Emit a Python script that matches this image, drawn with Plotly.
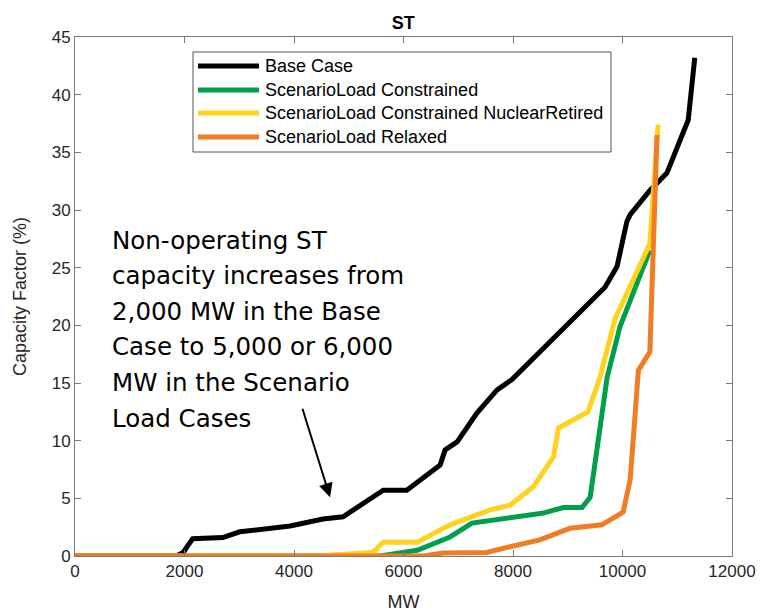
import plotly.graph_objects as go

# Capacity factor supply curves for ST units
base_mw = [0, 1850, 1975, 2150, 2700, 3010, 3930, 4530, 4895, 5630, 6060, 6670, 6760, 6980,
           7340, 7710, 7980, 8676, 9680, 9900, 10080, 10140, 10500, 10810, 11200, 11320]
base_cf = [0, 0, 0.3, 1.5, 1.6, 2.1, 2.6, 3.2, 3.4, 5.7, 5.7, 7.9, 9.2, 9.9,
           12.4, 14.4, 15.3, 18.6, 23.3, 25.1, 29.0, 29.6, 31.7, 33.2, 37.8, 43.2]

con_mw = [0, 5570, 6250, 6850, 7250, 7945, 8530, 8920, 9260, 9410, 9720, 9955, 10500]
con_cf = [0, 0, 0.5, 1.65, 2.85, 3.3, 3.7, 4.2, 4.2, 5.1, 15.5, 19.9, 26.5]

nuc_mw = [0, 4400, 5440, 5630, 6250, 6850, 7580, 7945, 8370, 8740, 8830, 9370, 9590,
          9860, 10500, 10650]
nuc_cf = [0, 0, 0.3, 1.2, 1.2, 2.7, 4.0, 4.4, 6.0, 8.6, 11.1, 12.5, 15.5,
          20.5, 27.1, 37.4]

rel_mw = [0, 6360, 6720, 7520, 7945, 8490, 9040, 9620, 10010, 10140, 10290, 10500, 10630]
rel_cf = [0, 0, 0.25, 0.3, 0.8, 1.4, 2.4, 2.7, 3.8, 6.6, 16.1, 17.7, 36.5]

series_names = ["Base Case", "ScenarioLoad Constrained",
                "ScenarioLoad Constrained NuclearRetired", "ScenarioLoad Relaxed"]
series_colors = ["#000000", "#00A04B", "#FFD21E", "#F07D23"]
series_x = [base_mw, con_mw, nuc_mw, rel_mw]
series_y = [base_cf, con_cf, nuc_cf, rel_cf]

x_ticks = [0, 2000, 4000, 6000, 8000, 10000, 12000]
y_ticks = [0, 5, 10, 15, 20, 25, 30, 35, 40, 45]

note_lines = ["Non-operating ST", "capacity increases from", "2,000 MW in the Base",
              "Case to 5,000 or 6,000", "MW in the Scenario", "Load Cases"]

# figure geometry (pixels)
W, H = 761, 615
ML, MR, MT, MB = 75, 29, 37, 59
PW, PH = W - ML - MR, H - MT - MB


def px(xp):
    return (xp - ML) / PW


def py(yp):
    return (H - MB - yp) / PH


fig = go.Figure()
for name, xs, ys, color in zip(series_names, series_x, series_y, series_colors):
    fig.add_trace(go.Scatter(x=xs, y=ys, mode="lines", name=name,
                             line=dict(color=color, width=5), showlegend=False))

axis_common = dict(
    showgrid=False, zeroline=False, ticks="inside", ticklen=6, automargin=False,
    showline=True, mirror="allticks", linecolor="#7a7a7a", linewidth=1,
    tickcolor="#7a7a7a", tickfont=dict(family="Liberation Sans", size=17, color="#262626"),
)

fig.update_layout(
    width=W, height=H,
    margin=dict(l=ML, r=MR, t=MT, b=MB),
    paper_bgcolor="white", plot_bgcolor="white",
    title=dict(text="<b>ST</b>", x=0.53, xanchor="center", y=0.963, yanchor="middle",
               font=dict(family="Liberation Sans", size=18, color="#000")),
    xaxis=dict(range=[0, 12000], tickvals=x_ticks, tickformat="d",
               title=dict(text="MW", standoff=14,
                          font=dict(family="Liberation Sans", size=18, color="#262626")),
               **axis_common),
    yaxis=dict(range=[0, 45], tickvals=y_ticks,
               title=dict(text="Capacity Factor (%)", standoff=20,
                          font=dict(family="Liberation Sans", size=18, color="#262626")),
               **axis_common),
    showlegend=False,
)

# legend box drawn in plot-area coordinates
shapes = [dict(type="rect", xref="paper", yref="paper",
               x0=px(193), x1=px(611), y0=py(152), y1=py(52),
               line=dict(color="#555", width=1), fillcolor="white", layer="above")]
row_y = [66, 90, 113, 137]
for name, color, ry in zip(series_names, series_colors, row_y):
    shapes.append(dict(type="line", xref="paper", yref="paper",
                       x0=px(198), x1=px(259), y0=py(ry), y1=py(ry),
                       line=dict(color=color, width=5), layer="above"))
    fig.add_annotation(x=px(263), y=py(ry), xref="paper", yref="paper",
                       xanchor="left", yanchor="middle", text=name, showarrow=False,
                       font=dict(family="Liberation Sans", size=18, color="#000"))
fig.update_layout(shapes=shapes)

# explanatory note with arrow
for i, line in enumerate(note_lines):
    fig.add_annotation(x=px(110), y=py(240 + 35.6 * i), xref="paper", yref="paper",
                       xanchor="left", yanchor="middle", text=line, showarrow=False,
                       font=dict(family="DejaVu Sans", size=24.5, color="#000"))
fig.add_annotation(x=4658, y=5.1, ax=4146, ay=12.9, xref="x", yref="y", axref="x", ayref="y",
                   text="", showarrow=True, arrowhead=2, arrowsize=1.4, arrowwidth=2,
                   arrowcolor="#000")

fig.write_html("out.html")
